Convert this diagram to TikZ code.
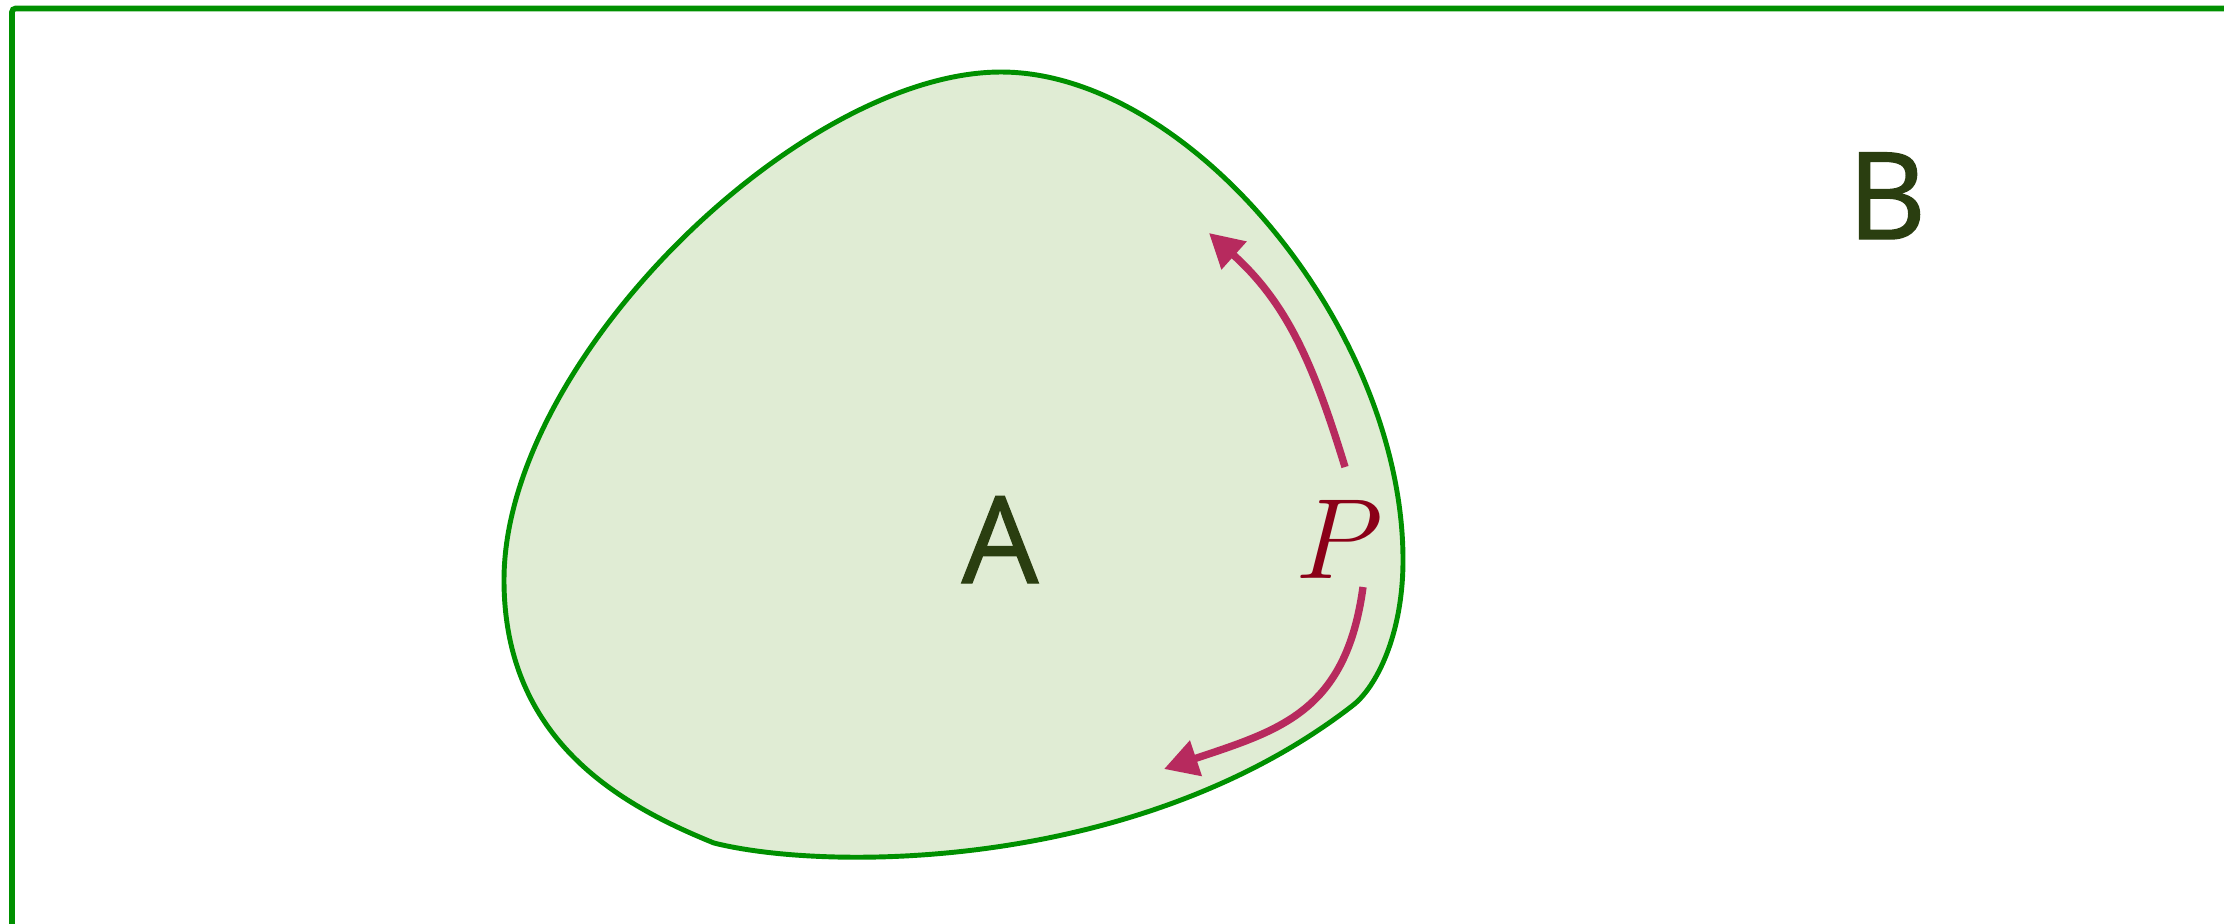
\RequirePackage{fix-cm}
\documentclass[tikz,border=0pt]{standalone}
\usepackage{fontspec}
\newfontfamily\setfont{Open Sans}[FakeBold=1.2]
\usetikzlibrary{arrows.meta}
\definecolor{edgegreen}{RGB}{0,144,0}
\definecolor{fillgreen}{RGB}{224,236,212}
\definecolor{labelgreen}{RGB}{42,62,16}
\definecolor{arrowred}{RGB}{183,42,94}
\definecolor{pred}{RGB}{139,0,24}
\begin{document}
\begin{tikzpicture}[x=0.01cm,y=-0.01cm,
  setlabel/.style={text=labelgreen, font=\setfont\fontsize{34.4}{40}\selectfont, inner sep=0pt},
  pointlabel/.style={text=pred, font=\fontsize{32.5}{36}\selectfont, inner sep=0pt},
  flow/.style={draw=arrowred, line width=2.1pt, -{Triangle[length=9.6pt,width=10.2pt]}},
  region/.style={draw=edgegreen, fill=fillgreen, line width=1.4pt},
  universe/.style={draw=edgegreen, line width=1.6pt, rounded corners=1pt}]
\useasboundingbox (0,0) rectangle (2224,923);
\begin{scope}
\clip (0,0) rectangle (2224,923);
\draw[universe] (2400,8.5) -- (12,8.5) -- (12,1100);
\end{scope}
\draw[region] (714,843) .. controls (830,872) and (1140,870) .. (1352,706)
 .. controls (1376,688) and (1403,635) .. (1403,560)
 .. controls (1403,330) and (1190,72) .. (1001,72)
 .. controls (801,72) and (504,360) .. (504,580)
 .. controls (504,740) and (620,805) .. cycle;
\node[setlabel, anchor=base] (A) at (1000,583) {A};
\node[setlabel, anchor=base] (B) at (1887,239) {B};
\node[pointlabel, anchor=base west] (P) at (1295,578) {$P$};
\coordinate (s1) at (1345,467);
\coordinate (e1) at (1209,233);
\coordinate (s2) at (1363,587);
\coordinate (e2) at (1164,769);
\draw[flow] (s1) .. controls (1314,366) and (1288,304) .. (e1);
\draw[flow] (s2) .. controls (1346,712) and (1280,730) .. (e2);
\end{tikzpicture}
\end{document}
